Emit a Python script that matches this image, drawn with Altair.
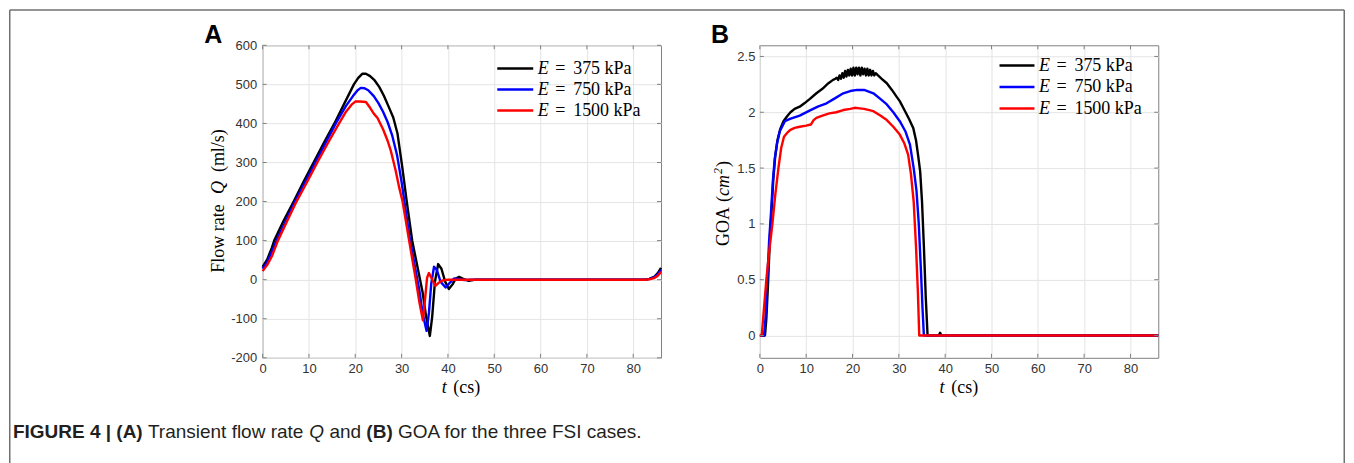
import altair as alt
import pandas as pd

# ---------------- data ----------------
E_LEVELS = ["375", "750", "1500"]
E_COLORS = ["#000000", "#0000ff", "#ff0000"]
E_NUMBERS = ["375 kPa", "750 kPa", "1500 kPa"]

T_TICKS = [0, 10, 20, 30, 40, 50, 60, 70, 80]
Q_TICKS = [-200, -100, 0, 100, 200, 300, 400, 500, 600]
GOA_TICKS = [0, 0.5, 1, 1.5, 2, 2.5]

# Panel A : flow rate Q (ml/s) vs t (cs)
tq_375 = [0, 1, 2, 2.5, 4.5, 6.7, 8.8, 11, 13.2, 15.5, 17.6, 19.7, 20.6, 21.5, 22.3, 23.2, 24.2, 25.2,
          26.2, 27.2, 28.2, 29.1, 30.1, 31.1, 32.3, 33.3, 34.5, 35.3, 36.1, 36.6, 37.2, 37.9, 38.6,
          39.4, 40.2, 41.0, 41.7, 42.4, 43.3, 44.5, 46, 60, 82.5, 83.5, 84.5, 85.3, 86]
q_375 = [33, 52, 82, 100, 150, 200, 250, 300, 350, 400, 450, 500, 516, 527, 527, 521, 510, 493,
         470, 443, 415, 375, 292, 201, 99, 40, -30, -95, -144, -95, -5, 40, 28,
         -5, -24, -12, 3, 7, 2, -3, 0, 0, 0, 2, 7, 17, 30]

tq_750 = [0, 1, 2, 3, 5, 7, 9.2, 11.4, 13.6, 15.8, 18, 19.5, 20.5, 21.2, 22, 22.8, 24, 25, 26, 27,
          28, 29, 30, 30.6, 31.7, 32.7, 33.8, 34.6, 35.4, 35.9, 36.4, 37.0, 37.6, 38.4, 39.5,
          40.4, 41.3, 42.2, 43.5, 45, 60, 82.5, 83.5, 84.5, 85.3, 86]
q_750 = [28, 45, 72, 100, 150, 200, 250, 300, 350, 400, 445, 470, 485, 491, 490, 485, 470, 452, 430, 403,
         368, 320, 250, 201, 110, 45, -25, -90, -131, -85, -10, 33, 25, -5, -20,
         -8, 3, 2, -1, 0, 0, 0, 2, 6, 14, 25]

tq_1500 = [0, 1, 2, 3.3, 5.3, 7.3, 9.6, 11.8, 14.1, 16.5, 18, 19.2, 20, 21, 22.3, 23.2, 24, 24.8, 26, 27,
           27.7, 28.7, 29.5, 30.2, 31.2, 32.2, 33, 33.8, 34.6, 35.1, 35.5, 35.9, 36.5, 37.3, 38,
           38.8, 40, 60, 82.5, 83.5, 84.5, 85.3, 86]
q_1500 = [22, 38, 60, 100, 150, 200, 250, 300, 350, 400, 430, 448, 456, 456, 455, 440, 425, 414, 385, 355,
          329, 280, 235, 201, 130, 60, 5, -55, -104, -45, 5, 17, 3, -16, -8,
          -2, 0, 0, 0, 1, 4, 10, 20]

# Panel B : GOA (cm^2) vs t (cs)
tg_375 = [0, 1.1, 1.4, 1.8, 2.2, 2.5, 2.9, 3.3, 3.8, 4.4, 5.1, 5.8, 6.6, 7.5, 8.6, 9.6, 10.8, 12.2, 13.5,
          14.8, 15.8, 16.3,
          16.6, 16.9, 17.2, 17.5, 17.8, 18.1, 18.4, 18.7, 19.0, 19.3, 19.6, 19.9, 20.2, 20.5, 20.8, 21.1,
          21.4, 21.7, 22.0, 22.3, 22.6, 22.9, 23.2, 23.5, 23.8, 24.1, 24.4, 24.7, 25.0,
          25.5, 26.3, 27.4, 28.5, 29.5, 30.2, 31.2, 32.2, 33.1, 33.7, 34.2, 34.6, 35.0, 35.4, 35.8, 36.2,
          38.6, 38.9, 39.2, 86]
goa_375 = [0, 0, 0.15, 0.5, 0.9, 1.1, 1.4, 1.6, 1.75, 1.85, 1.92, 1.96, 2.0, 2.03, 2.05, 2.08, 2.12, 2.17, 2.21,
           2.26, 2.29, 2.30,
           2.31, 2.29, 2.33, 2.30, 2.35, 2.31, 2.37, 2.32, 2.38, 2.33, 2.39, 2.33, 2.40, 2.33, 2.40, 2.34,
           2.40, 2.33, 2.40, 2.34, 2.39, 2.33, 2.39, 2.33, 2.38, 2.33, 2.37, 2.33, 2.35,
           2.33, 2.30, 2.26, 2.20, 2.14, 2.10, 2.02, 1.94, 1.86, 1.75, 1.6, 1.47, 1.2, 0.8, 0.35, 0,
           0, 0.025, 0, 0]

tg_750 = [0, 0.9, 1.2, 1.6, 2.0, 2.4, 2.8, 3.2, 3.7, 4.3, 5.4, 6.5, 8.6, 10.5, 12.5, 14.4, 16, 18, 19.5, 21,
          22.5, 24.5, 26, 27.4, 28.8, 30.2, 31.4, 32.4, 33.2, 33.8, 34.3, 34.8, 35.1, 35.4, 86]
goa_750 = [0, 0, 0.15, 0.5, 0.85, 1.1, 1.38, 1.58, 1.72, 1.83, 1.92, 1.94, 1.97, 2.01, 2.05, 2.08, 2.12, 2.17,
           2.19, 2.20, 2.20, 2.17, 2.12, 2.07, 2.0, 1.92, 1.83, 1.71, 1.5, 1.3, 1.0, 0.55, 0.25, 0, 0]

tg_1500 = [0, 0.4, 1.0, 1.4, 2.0, 2.7, 3.3, 4.0, 4.6, 5.2, 6.0, 6.5, 7.5, 8.6, 10.0, 11.0, 11.6, 12.2, 13.5,
           15, 16.5, 18, 19.5, 20.5, 21.5, 22.5, 24.5, 26, 27.4, 28.8, 30.2, 31.2, 32, 32.6, 33.2, 33.7,
           34.1, 34.4, 86]
goa_1500 = [0, 0, 0.3, 0.5, 0.75, 1.0, 1.25, 1.5, 1.68, 1.78, 1.82, 1.84, 1.86, 1.87, 1.88, 1.89, 1.93, 1.95,
            1.97, 1.99, 2.0, 2.02, 2.03, 2.04, 2.035, 2.03, 2.01, 1.97, 1.93, 1.87, 1.80, 1.72, 1.62, 1.45,
            1.2, 0.8, 0.4, 0, 0]

# ---------------- styling ----------------
W, H = 399, 313
TK = 4
SANS = "Liberation Sans, Arial, Helvetica, sans-serif"
SERIF = "Liberation Serif, Times New Roman, serif"
CAPF = "Liberation Sans, Arial, Helvetica, sans-serif"
GRID = "#e4e4e4"
BOX = "#7f7f7f"
LBL = "#333333"
FRAME = "#707070"
CAPC = "#231f20"
ONE = pd.DataFrame({"k": [0]})


def make_axis(values, pad):
    return alt.Axis(values=values, grid=True, gridColor=GRID, domain=False, ticks=False,
                    labelPadding=pad, labelFont=SANS, labelFontSize=13, labelColor=LBL,
                    labelFlush=False, labelOverlap=False, labelExpr="toString(datum.value)")


X_SCALE = alt.Scale(domain=[0, 86], nice=False, zero=False)
X_AXIS = make_axis(T_TICKS, 5)


def long_df(ts, vs, yname):
    frames = []
    for lev, t, v in zip(E_LEVELS, ts, vs):
        frames.append(pd.DataFrame({"t": t, yname: v, "E": lev}))
    return pd.concat(frames, ignore_index=True)


def txt(s, x, y, size, font, weight="normal", style="normal", align="left", angle=None, color="#000000"):
    kw = dict(align=align, baseline="alphabetic", font=font, fontSize=size,
              fontWeight=weight, fontStyle=style, color=color)
    if angle:
        kw["angle"] = angle
    return alt.Chart(pd.DataFrame({"s": [s]})).mark_text(**kw).encode(
        x=alt.value(x), y=alt.value(y), text="s:N")


def build_panel(df, yfield, ydomain, yticks, lab_pad, extra):
    y_scale = alt.Scale(domain=ydomain, nice=False, zero=False)
    y_axis = make_axis(yticks, lab_pad)
    X = alt.X("t:Q", title=None, scale=X_SCALE, axis=X_AXIS)
    Y = alt.Y(f"{yfield}:Q", title=None, scale=y_scale, axis=y_axis)
    lines = alt.Chart(df).mark_line(strokeWidth=2.4, strokeJoin="round").encode(
        x=X, y=Y,
        color=alt.Color("E:N", scale=alt.Scale(domain=E_LEVELS, range=E_COLORS), legend=None),
    )
    dx = pd.DataFrame({"t": T_TICKS})
    dy = pd.DataFrame({yfield: yticks})
    base = dict(color=BOX, strokeWidth=1)
    ticks = [
        alt.Chart(dx).mark_rule(**base).encode(x=X, y=alt.value(H), y2=alt.value(H - TK)),
        alt.Chart(dx).mark_rule(**base).encode(x=X, y=alt.value(0), y2=alt.value(TK)),
        alt.Chart(dy).mark_rule(**base).encode(y=Y, x=alt.value(0), x2=alt.value(TK)),
        alt.Chart(dy).mark_rule(**base).encode(y=Y, x=alt.value(W), x2=alt.value(W - TK)),
    ]
    return alt.layer(lines, *ticks, *extra).properties(width=W, height=H)


def legend(lx0, lx1, rows):
    out = []
    for col, num, ry in zip(E_COLORS, E_NUMBERS, rows):
        out.append(alt.Chart(ONE).mark_rule(color=col, strokeWidth=2.5).encode(
            x=alt.value(lx0), x2=alt.value(lx1), y=alt.value(ry)))
        out.append(txt("E", lx1 + 4.5, ry + 5.5, 18, SERIF, style="italic"))
        out.append(txt("=", lx1 + 22, ry + 5.5, 18, SERIF))
        out.append(txt(num, lx1 + 40, ry + 5.5, 18, SERIF))
    return out


# ---------------- panel A ----------------
dfq = long_df([tq_375, tq_750, tq_1500], [q_375, q_750, q_1500], "Q")
extra_a = legend(235, 271, [23.3, 44.3, 65.3])
extra_a += [
    txt("A", -49.5, -2, 25, SANS, weight="bold", align="center"),
    txt("t", 179.5, 348, 18, SERIF, style="italic"),
    txt("(cs)", 191, 348, 18, SERIF),
    txt("Flow rate", -39, 227.7, 18, SERIF, angle=270),
    txt("Q", -39, 149, 18, SERIF, style="italic", angle=270),
    txt("(ml/s)", -39, 127, 18, SERIF, angle=270),
]
# outer frame of the figure
RX = 1083.25
extra_a += [
    alt.Chart(ONE).mark_rule(color=FRAME, strokeWidth=1.5).encode(
        x=alt.value(-253.25), x2=alt.value(RX), y=alt.value(-35.25)),
    alt.Chart(ONE).mark_rule(color=FRAME, strokeWidth=1.5).encode(
        x=alt.value(-253.25), y=alt.value(-35.25), y2=alt.value(419)),
    alt.Chart(ONE).mark_rule(color=FRAME, strokeWidth=1.5).encode(
        x=alt.value(RX), y=alt.value(-35.25), y2=alt.value(419)),
]
# caption
CY = 393
CS = 19
extra_a += [
    txt("FIGURE 4 | (A)", -250, CY, CS, CAPF, weight="bold", color=CAPC),
    txt("Transient flow rate", -114.8, CY, CS, CAPF, color=CAPC),
    txt("Q", 46.8, CY, CS, CAPF, style="italic", color=CAPC),
    txt("and", 66.9, CY, CS, CAPF, color=CAPC),
    txt("(B)", 103.9, CY, CS, CAPF, weight="bold", color=CAPC),
    txt("GOA for the three FSI cases.", 135.6, CY, CS, CAPF, color=CAPC),
]
panel_a = build_panel(dfq, "Q", [-200, 600], Q_TICKS, 6, extra_a)

# ---------------- panel B ----------------
dfg = long_df([tg_375, tg_750, tg_1500], [goa_375, goa_750, goa_1500], "GOA")
extra_b = legend(240, 275, [20.3, 41.7, 63.3])
extra_b += [
    txt("B", -40, -2, 25, SANS, weight="bold", align="center"),
    txt("t", 180, 348, 18, SERIF, style="italic"),
    txt("(cs)", 191.7, 348, 18, SERIF),
    txt("GOA", -31, 201, 18, SERIF, angle=270),
    txt("(", -31, 157, 18, SERIF, angle=270),
    txt("cm", -31, 151, 18, SERIF, style="italic", angle=270),
    txt("2", -38, 129, 12, SERIF, style="italic", angle=270),
    txt(")", -31, 122, 18, SERIF, angle=270),
]
panel_b = build_panel(dfg, "GOA", [-0.2, 2.6], GOA_TICKS, 5, extra_b)

chart = (
    alt.hconcat(panel_a, panel_b, spacing=99, bounds="flush")
    .properties(padding=0)
    .configure_view(stroke=BOX, strokeWidth=1)
)

chart.save("out.html", embed_options={"renderer": "svg", "actions": False})
